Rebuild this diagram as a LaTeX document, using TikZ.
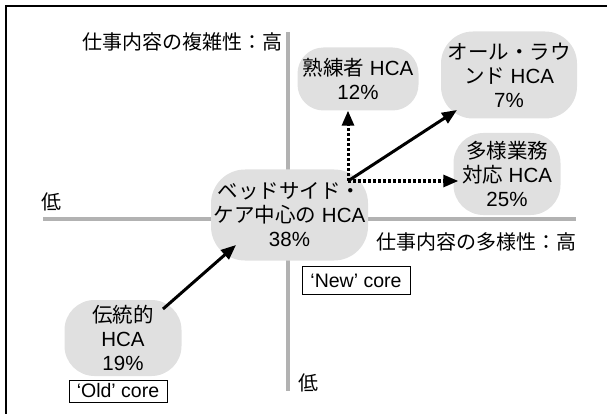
\documentclass[tikz,border=0pt]{standalone}
\usepackage{fontspec}
\setmainfont{Liberation Sans}
\newfontfamily\jp{Noto Sans CJK JP}
\usetikzlibrary{arrows.meta,calc}
\begin{document}
\begin{tikzpicture}[x=1pt,y=-1pt,
  blob/.style={fill=gray!24, rounded corners=26pt, inner sep=0pt, align=center,
    font=\fontsize{20.5}{24}\selectfont},
  axisline/.style={draw=gray!60, line width=4.5pt},
  tag/.style={draw=black, line width=1pt, inner sep=0pt, font=\fontsize{19.5}{21}\selectfont},
  lbl/.style={inner sep=0pt, font=\fontsize{20}{24}\selectfont\jp},
  arr/.style={line width=3pt, -{Triangle[length=15pt,width=12pt]}},
  dotarr/.style={line width=3pt, dash pattern=on 3pt off 2pt, -{Triangle[length=15pt,width=12pt]}}]
\useasboundingbox (0,0) rectangle (607,414);
% frame
\draw[line width=2.2pt] (6,414) -- (6,6) -- (607,6);
% axes
\draw[axisline] (288,32) -- (288,391);
\draw[axisline] (43,219) -- (576,219);
% axis labels
\node[lbl, anchor=west] (ytop) at (82,42) {仕事内容の複雑性：高};
\node[lbl] (xlow) at (51,202) {低};
\node[lbl, anchor=east] (xhigh) at (577,242) {仕事内容の多様性：高};
\node[lbl] (ylow) at (308,383) {低};
% nodes
\node[blob, rounded corners=34pt, minimum width=157pt, minimum height=91pt] (core) at (289.5,215)
  {{\jp ベッドサイド・}\\{\jp ケア中心の} HCA\\38\%};
\node[blob, rounded corners=26pt, minimum width=121pt, minimum height=63pt] (skill) at (358,79)
  {{\jp 熟練者} HCA\\12\%};
\node[blob, rounded corners=32pt, minimum width=136pt, minimum height=87pt] (allround) at (509,75)
  {{\jp オール・ラウ}\\{\jp ンド} HCA\\7\%};
\node[blob, rounded corners=30pt, minimum width=107pt, minimum height=82pt] (multi) at (507,174)
  {{\jp 多様業務}\\{\jp 対応} HCA\\25\%};
\node[blob, rounded corners=30pt, minimum width=117pt, minimum height=76pt] (trad) at (123,338)
  {{\jp 伝統的}\\HCA\\19\%};
\node[tag, minimum width=98pt, minimum height=22pt] (old) at (118,391) {‘Old’ core};
\node[tag, minimum width=108pt, minimum height=28pt] (new) at (356,280.5) {‘New’ core};
% arrows
\coordinate (P) at ($(core.center)+(58.5,-34)$);
\draw[arr] ($(trad.center)+(40,-29)$) -- ($(core.center)+(-53.5,30)$);
\draw[dotarr] (P) -- (P |- skill.south);
\draw[dotarr] (P) -- ($(P -| multi.west)+(5,0)$);
\draw[arr] (P) -- ($(allround.center)+(-52,35)$);
\end{tikzpicture}
\end{document}
